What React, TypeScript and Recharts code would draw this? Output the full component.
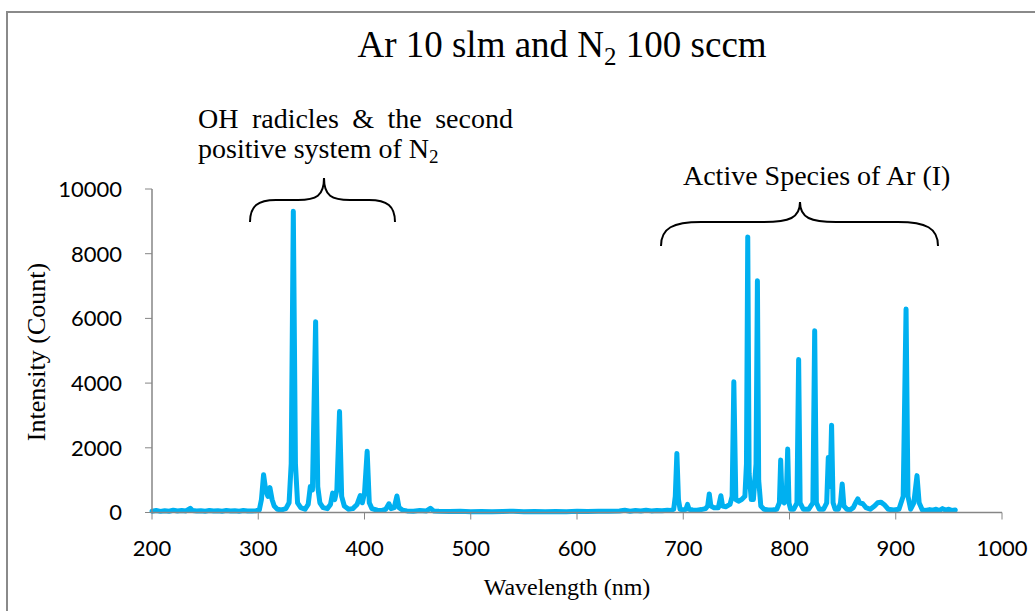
import React from 'react';
import { LineChart, Line, XAxis, YAxis } from 'recharts';

// [wavelength (nm), intensity (count)]
const uvBaseline: [number, number][] = [
  [200, 40], [204, 60], [208, 35], [212, 55], [216, 40], [220, 70], [224, 45], [228, 60], [232, 50],
  [236, 130], [238, 60], [242, 45], [246, 55], [250, 40], [254, 60], [258, 45], [262, 55], [266, 40],
  [270, 60], [274, 45], [278, 55], [282, 40], [286, 60], [290, 50], [294, 45], [298, 55], [301, 80],
];

const ohN2Band: [number, number][] = [
  [303, 400], [305, 1170], [307, 700], [309, 500], [311, 770], [313, 400], [315, 200], [318, 100],
  [322, 80], [326, 120], [329, 300], [331, 1500], [333, 9310], [335, 1500], [337, 300], [340, 150],
  [344, 100], [347, 250], [349, 800], [351, 700], [354, 5900], [356, 800], [358, 300], [361, 150],
  [365, 120], [368, 250], [370, 600], [372, 400], [374, 700], [376.5, 3120], [378.5, 500], [381, 200],
  [385, 100], [389, 120], [393, 250], [396, 520], [398, 300], [400, 600], [402.5, 1890], [404.5, 300],
  [407, 120], [412, 70], [416, 60], [420, 100], [423, 270], [425, 120], [428, 150], [430.5, 510],
  [432.5, 150], [436, 70], [440, 50], [446, 40], [452, 60], [458, 45], [462, 130], [465, 50],
];

const visibleGap: [number, number][] = [
  [470, 40], [480, 30], [490, 35], [500, 25], [510, 30], [520, 25], [530, 30], [540, 40], [550, 25],
  [560, 30], [570, 25], [580, 30], [590, 25], [600, 35], [610, 30], [620, 35], [630, 40], [640, 45],
  [645, 70], [650, 40], [655, 60], [660, 45], [665, 70], [670, 50], [675, 60], [680, 55], [685, 70],
  [688, 60], [691, 100],
];

const arLines: [number, number][] = [
  [692.5, 500], [694, 1825], [695.5, 400], [697, 100], [700, 80], [702.5, 100], [704, 250], [705.5, 100],
  [709, 80], [713, 70], [717, 90], [721, 120], [723, 200], [724.5, 575], [726, 200], [729, 150],
  [733, 150], [735.4, 520], [737, 200], [740, 180], [744, 250], [746, 500], [747.6, 4040], [749.5, 400],
  [752, 350], [755, 400], [758, 500], [759.5, 1500], [760.7, 8520], [762, 1200], [764, 400], [766, 400],
  [768.5, 1500], [769.8, 7160], [771, 1000], [773, 200], [776, 100], [780, 80], [784, 80], [788, 100],
  [790.5, 300], [791.7, 1620], [793, 400], [795, 300], [797, 500], [798.3, 1960], [799.5, 300], [801, 100],
  [804, 100], [807, 300], [808.6, 4730], [810, 300], [813, 100], [818, 100], [822, 300], [823.7, 5620],
  [825.3, 300], [828, 100], [832, 100], [835, 300], [836.5, 1700], [837.5, 800], [838.5, 1200],
  [839.6, 2700], [841, 300], [843, 100], [846, 100], [848, 300], [849.6, 880], [851.2, 200], [854, 100],
  [857, 80], [860, 150], [863, 350], [864.3, 420], [866, 300], [869, 270], [872, 150], [876, 100],
  [880, 200], [883, 300], [886, 320], [889, 250], [893, 100], [898, 80], [903, 100], [907, 500],
  [909.7, 6290], [911.5, 500], [914, 100], [917, 300], [920, 1140], [922, 300], [925, 80], [928, 60],
  [932, 90], [935, 70], [938, 100], [941, 60], [944, 120], [947, 70], [950, 100], [953, 60], [956, 80],
];

const xTicks = [200, 300, 400, 500, 600, 700, 800, 900, 1000];
const yTicks = [0, 2000, 4000, 6000, 8000, 10000];

const data = [...uvBaseline, ...ohN2Band, ...visibleGap, ...arLines].map(([wavelength, intensity]) => ({
  wavelength,
  intensity,
}));

const AXIS = '#868686';
const SERIF = '"Liberation Serif", "Times New Roman", serif';
const SANS = 'Lato, "Open Sans", sans-serif';

function bracePath(x0: number, x1: number, xc: number, yEnd: number, yBar: number, yTip: number, r: number, r2: number) {
  return [
    `M ${x0} ${yEnd}`,
    `C ${x0} ${yBar + 6} ${x0 + r * 0.3} ${yBar} ${x0 + r} ${yBar}`,
    `L ${xc - r2} ${yBar}`,
    `C ${xc - r2 * 0.3} ${yBar} ${xc} ${yBar - 4} ${xc} ${yTip}`,
    `C ${xc} ${yBar - 4} ${xc + r2 * 0.3} ${yBar} ${xc + r2} ${yBar}`,
    `L ${x1 - r} ${yBar}`,
    `C ${x1 - r * 0.3} ${yBar} ${x1} ${yBar + 6} ${x1} ${yEnd}`,
  ].join(' ');
}

export default function App() {
  return (
    <div style={{ position: 'fixed', left: 0, top: 0, width: 1035, height: 611, overflow: 'hidden', background: '#fff' }}>
      <div
        style={{
          position: 'absolute', left: 6, top: 11, width: 1100, height: 700,
          border: `2px solid #8a8a8a`, boxSizing: 'border-box',
        }}
      />
      <div style={{ position: 'absolute', left: 0, top: 0 }}>
        <LineChart width={1035} height={611} data={data} margin={{ top: 189, right: 33, bottom: 0, left: 0 }}>
          <XAxis
            dataKey="wavelength"
            type="number"
            domain={[200, 1000]}
            ticks={xTicks}
            height={98.5}
            stroke={AXIS}
            tickSize={7}
            tickMargin={21}
            tick={{ fill: '#000', fontSize: 22, fontFamily: SANS }}
            tickLine={{ stroke: AXIS }}
            axisLine={{ stroke: AXIS, strokeWidth: 1.5 }}
            interval={0}
          />
          <YAxis
            type="number"
            domain={[0, 10000]}
            ticks={yTicks}
            width={152}
            stroke={AXIS}
            tickSize={7}
            tickMargin={23}
            tick={{ fill: '#000', fontSize: 22, fontFamily: SANS }}
            tickLine={{ stroke: AXIS }}
            axisLine={{ stroke: AXIS, strokeWidth: 1.5 }}
            interval={0}
          />
          <Line
            type="linear"
            dataKey="intensity"
            stroke="#00B0F0"
            strokeWidth={5}
            strokeLinejoin="round"
            strokeLinecap="round"
            dot={false}
            isAnimationActive={false}
          />
        </LineChart>
      </div>
      <svg width={1035} height={611} style={{ position: 'absolute', left: 0, top: 0, pointerEvents: 'none' }}>
        <text x={562} y={56.5} textAnchor="middle" fontFamily={SERIF} fontSize={37} fill="#000">
          Ar 10 slm and N<tspan dy={8} fontSize={25}>2</tspan>
          <tspan dy={-8}> 100 sccm</tspan>
        </text>
        <text x={816.7} y={185} textAnchor="middle" fontFamily={SERIF} fontSize={28} fill="#000">
          Active Species of Ar (I)
        </text>
        <path d={bracePath(250, 395, 324, 222, 200, 178, 26, 26)} fill="none" stroke="#000" strokeWidth={2} />
        <path d={bracePath(661, 938, 800, 246, 222, 202, 40, 36)} fill="none" stroke="#000" strokeWidth={2} />
        <text x={567} y={595} textAnchor="middle" fontFamily={SERIF} fontSize={24} fill="#000">
          Wavelength (nm)
        </text>
        <text
          x={45}
          y={352}
          textAnchor="middle"
          transform="rotate(-90 45 352)"
          fontFamily={SERIF}
          fontSize={26}
          fill="#000"
        >
          Intensity (Count)
        </text>
      </svg>
      <div
        style={{
          position: 'absolute', left: 198, top: 104, width: 315, fontFamily: SERIF, fontSize: 28,
          lineHeight: '30px', color: '#000',
        }}
      >
        <div style={{ whiteSpace: 'nowrap', display: 'flex', justifyContent: 'space-between' }}>
          <span>OH</span><span>radicles</span><span>&amp;</span><span>the</span><span>second</span>
        </div>
        <div style={{ whiteSpace: 'nowrap' }}>
          positive system of N<span style={{ fontSize: 19, position: 'relative', top: 5 }}>2</span>
        </div>
      </div>
    </div>
  );
}
